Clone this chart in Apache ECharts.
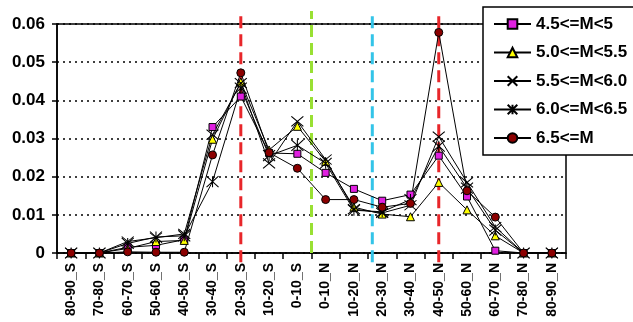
<!DOCTYPE html>
<html><head><meta charset="utf-8">
<script src="https://cdn.jsdelivr.net/npm/echarts@6/dist/echarts.min.js"></script>
<style>html,body{margin:0;padding:0;background:#fff}#c{width:633px;height:322px}</style>
</head><body><div id="c"></div>
<script>
const categories = ['80-90_S','70-80_S','60-70_S','50-60_S','40-50_S','30-40_S','20-30_S','10-20_S','0-10_S',
  '0-10_N','10-20_N','20-30_N','30-40_N','40-50_N','50-60_N','60-70_N','70-80_N','80-90_N'];
const seriesNames = ['4.5<=M<5','5.0<=M<5.5','5.5<=M<6.0','6.0<=M<6.5','6.5<=M'];
const m45 = [0,0,0.0015,0.0020,0.0035,0.0330,0.0410,0.0262,0.0260,0.0210,0.0168,0.0137,0.0153,0.0255,0.0148,0.0006,0,0];
const m50 = [0,0,0.0012,0.0030,0.0033,0.0298,0.0448,0.0270,0.0332,0.0240,0.0120,0.0102,0.0095,0.0185,0.0113,0.0045,0,0];
const m55 = [0,0,0.0030,0.0040,0.0050,0.0310,0.0445,0.0235,0.0345,0.0245,0.0115,0.0105,0.0125,0.0305,0.0185,0.0068,0,0];
const m60 = [0,0,0.0025,0.0042,0.0045,0.0187,0.0432,0.0255,0.0282,0.0235,0.0112,0.0108,0.0140,0.0280,0.0170,0.0060,0,0];
const m65 = [0,0,0.0003,0.0002,0.0002,0.0257,0.0472,0.0263,0.0222,0.0140,0.0140,0.0120,0.0130,0.0578,0.0163,0.0094,0,0];
const yTicks = [0,0.01,0.02,0.03,0.04,0.05,0.06];
// reference lines: position in category bands (band i spans i..i+1)
const refLinePos = [6.5, 9, 11.15, 13.5];
const refLineColors = ['#e8262a','#99e033','#33c4e8','#e8262a'];
const refLineTop = [0.0623, 0.0634, 0.0632, 0.0623];
const refLineBottom = [-0.0024, 0, -0.0024, -0.0024];

const font = 'Arial, "Liberation Sans", sans-serif';
const X = 'path://M0,0L12,10M12,0L0,10';
const AST = 'path://M0,0L12,10M12,0L0,10M6,0L6,10';
const symbols = ['rect','triangle',X,AST,'circle'];
const sizes = [7,8,[12,10],[12,11],8];
const fills = ['#e020e0','#ffff00','#000','#000','#8b0000'];
const datas = [m45,m50,m55,m60,m65];

const series = [];
refLinePos.forEach((p,i)=>{
  series.push({type:'line', xAxisIndex:1, yAxisIndex:1, data:[[p,refLineBottom[i]],[p,refLineTop[i]]],
    symbol:'none', clip:false, silent:true, z:1,
    lineStyle:{color:refLineColors[i], width:3, type:[12,6]}});
});
datas.forEach((d,i)=>{
  series.push({name:seriesNames[i], type:'line', data:d, symbol:symbols[i], symbolSize:sizes[i], z:3,
    showAllSymbol:true,
    lineStyle:{color:'#000', width:1},
    itemStyle:{color:fills[i], borderColor:'#000', borderWidth:1},
    emphasis:{disabled:true}});
});

const chart = echarts.init(document.getElementById('c'), null, {renderer:'canvas'});
chart.setOption({
  animation:false,
  backgroundColor:'#fff',
  grid:{left:57, right:67, top:24, bottom:69, show:true, borderColor:'#000', borderWidth:1.5, backgroundColor:'transparent'},
  legend:{orient:'vertical', left:483, top:7, data:seriesNames,
    itemWidth:37, itemHeight:12, itemGap:8.5,
    padding:[7,15,7,10], backgroundColor:'#fff', borderColor:'#000', borderWidth:1.5,
    textStyle:{fontFamily:font, fontWeight:'bold', fontSize:17, color:'#000', lineHeight:20},
    z:10},
  xAxis:[{type:'category', data:categories, boundaryGap:true,
    axisLine:{lineStyle:{color:'#000', width:1.5}},
    axisTick:{show:true, length:6, interval:0, lineStyle:{color:'#000', width:1.5}},
    axisLabel:{interval:0, rotate:90, margin:10, fontFamily:font, fontWeight:'bold', fontSize:14, color:'#000'}},
   {type:'value', min:0, max:18, show:false}],
  yAxis:[{type:'value', min:0, max:0.06, interval:0.01,
    axisLine:{show:true, lineStyle:{color:'#000', width:1.5}},
    axisTick:{show:true, length:5, lineStyle:{color:'#000', width:1.5}},
    axisLabel:{margin:12, fontFamily:font, fontWeight:'bold', fontSize:17, color:'#000',
      formatter:v=>{const t=yTicks.find(x=>Math.abs(x-v)<1e-9); return t===undefined?'':String(t);}},
    splitLine:{show:true, lineStyle:{color:'#000', width:1.5, type:[2,4]}}},
   {type:'value', min:0, max:0.06, show:false}],
  series:series
});
</script></body></html>
